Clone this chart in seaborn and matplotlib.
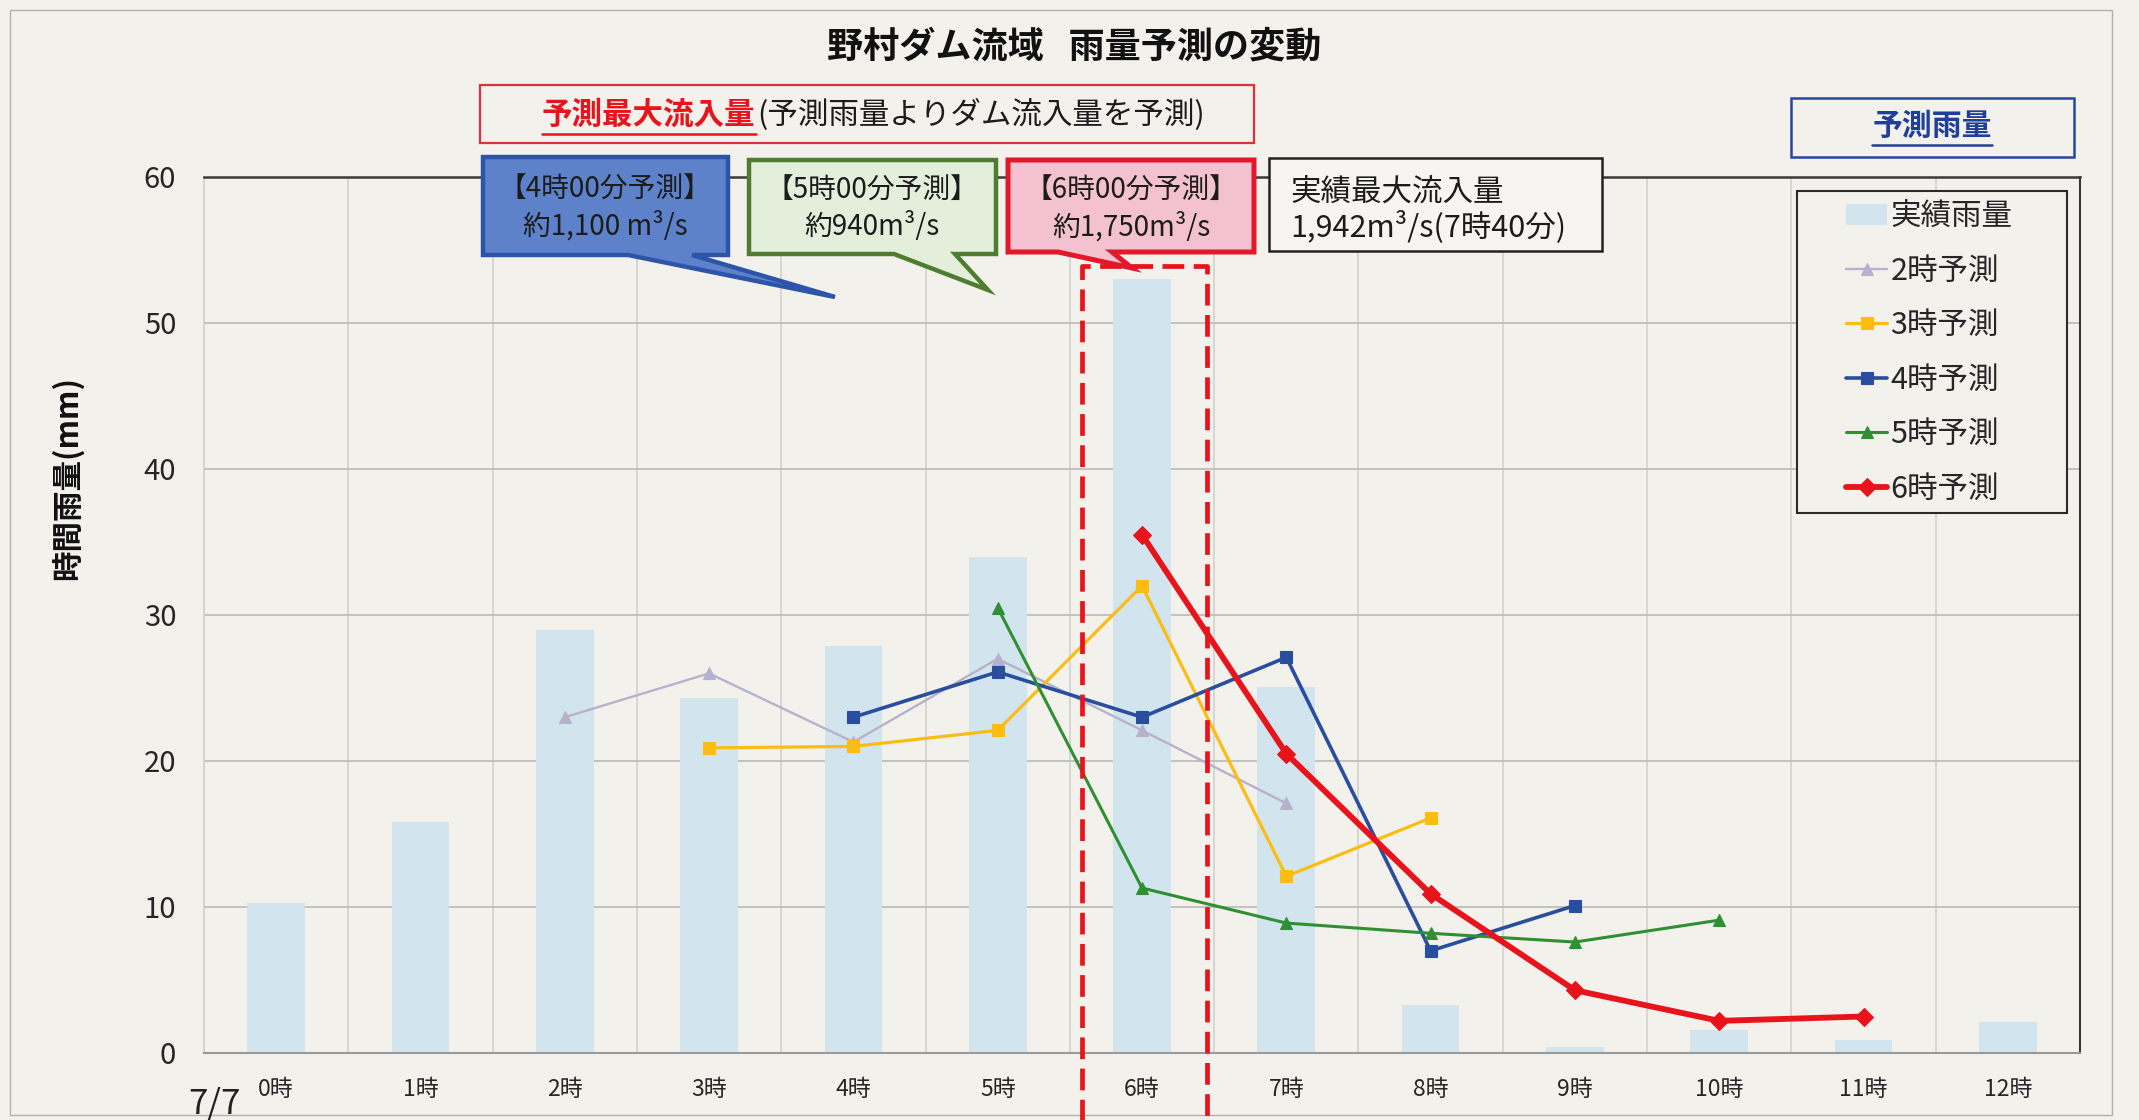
import numpy as np
import pandas as pd
import matplotlib
matplotlib.use('Agg')
import matplotlib.pyplot as plt
import seaborn as sns
from matplotlib.patches import Polygon, Rectangle
from matplotlib.lines import Line2D

# ---------------- data ----------------
hours = ['0時', '1時', '2時', '3時', '4時', '5時', '6時', '7時', '8時', '9時', '10時', '11時', '12時']
actual_rain = [10.3, 15.8, 29.0, 24.3, 27.9, 34.0, 53.0, 25.1, 3.3, 0.4, 1.6, 0.9, 2.1]

f2_pos = [2, 3, 4, 5, 6, 7]
f2_vals = [23.0, 26.0, 21.3, 27.0, 22.1, 17.1]
f3_pos = [3, 4, 5, 6, 7, 8]
f3_vals = [20.9, 21.0, 22.1, 32.0, 12.1, 16.1]
f4_pos = [4, 5, 6, 7, 8, 9]
f4_vals = [23.0, 26.1, 23.0, 27.1, 7.0, 10.1]
f5_pos = [5, 6, 7, 8, 9, 10]
f5_vals = [30.5, 11.3, 8.9, 8.2, 7.6, 9.1]
f6_pos = [6, 7, 8, 9, 10, 11]
f6_vals = [35.5, 20.5, 10.9, 4.3, 2.2, 2.5]

series_names = ['2時予測', '3時予測', '4時予測', '5時予測', '6時予測']
series_pos = [f2_pos, f3_pos, f4_pos, f5_pos, f6_pos]
series_vals = [f2_vals, f3_vals, f4_vals, f5_vals, f6_vals]

# ---------------- style ----------------
BG = '#f2f1ec'
BAR = '#d2e5ef'
styles = {
    '2時予測': dict(color='#b7b2cb', marker='^', lw=1.7, ms=8),
    '3時予測': dict(color='#fbbd12', marker='s', lw=2.3, ms=8.5),
    '4時予測': dict(color='#2a4e9f', marker='s', lw=2.6, ms=8.5),
    '5時予測': dict(color='#2f8f32', marker='^', lw=2.2, ms=9),
    '6時予測': dict(color='#e8141c', marker='D', lw=4.2, ms=9.5),
}

sns.set_style('white')
plt.rcParams['font.family'] = ['Noto Sans CJK JP', 'DejaVu Sans']

W, H = 2139, 1120
fig = plt.figure(figsize=(W / 100, H / 100), dpi=100, facecolor=BG)


def fx(px):
    return px / W


def fy(py):
    return 1 - py / H


ax = fig.add_axes([fx(204), fy(1053), fx(2080) - fx(204), fy(177) - fy(1053)])
ax.set_facecolor(BG)

sns.barplot(x=hours, y=actual_rain, order=hours, color=BAR, saturation=1, width=0.40,
            errorbar=None, label='実績雨量', linewidth=0, ax=ax, zorder=2)

for name, xs, ys in zip(series_names, series_pos, series_vals):
    st = styles[name]
    sns.lineplot(x=xs, y=ys, color=st['color'], marker=st['marker'], linewidth=st['lw'],
                 markersize=st['ms'], markeredgecolor=st['color'], markeredgewidth=0.8,
                 label=name, ax=ax, zorder=3)

ax.set_xlim(-0.5, 12.5)
ax.set_ylim(0, 60)
ax.set_yticks(range(0, 61, 10))
ax.set_xticks(range(len(hours)))
ax.set_xticklabels(hours)
ax.set_xticks(np.arange(-0.5, len(hours), 1), minor=True)
ax.set_xlabel('')
ax.set_ylabel('')
ax.grid(False)
ax.yaxis.grid(True, color='#bdbdbd', lw=1.3)
ax.xaxis.grid(True, which='minor', color='#cfcfcf', lw=1.1)
ax.set_axisbelow(True)
ax.tick_params(axis='x', which='major', length=0, pad=18, labelsize=16.5)
ax.tick_params(axis='x', which='minor', length=7, color='#bdbdbd', width=1)
ax.tick_params(axis='y', length=0, pad=20, labelsize=21)
ax.spines['top'].set_color('#3a3a3a'); ax.spines['top'].set_linewidth(1.8)
ax.spines['right'].set_color('#3a3a3a'); ax.spines['right'].set_linewidth(1.5)
ax.spines['bottom'].set_color('#9a9a9a'); ax.spines['bottom'].set_linewidth(1.5)
ax.spines['left'].set_color('#cfcfcf'); ax.spines['left'].set_linewidth(1.1)

# legend with opaque frame
handles, labels = ax.get_legend_handles_labels()
hmap = dict(zip(labels, handles))
order = ['実績雨量'] + series_names
ax.add_patch(Rectangle((fx(1797), fy(513)), fx(2067) - fx(1797), fy(191) - fy(513),
                       transform=fig.transFigure, clip_on=False, fc=BG, ec='#2a2a2a',
                       lw=1.5, zorder=4))
leg = ax.legend([hmap[k] for k in order], order, loc='upper left',
                bbox_to_anchor=(fx(1846), fy(201)), bbox_transform=fig.transFigure,
                frameon=False, fontsize=22, handlelength=1.35, handletextpad=0.1,
                labelspacing=0.77, borderpad=0, borderaxespad=0)
leg.set_zorder(6)

# dashed red rectangle around 6時
dash = Line2D([fx(1082), fx(1082), fx(1207), fx(1207)], [fy(1125), fy(266), fy(266), fy(1125)],
              transform=fig.transFigure, color='#e8141c', lw=3.4, zorder=4)
dash.set_dashes([4.6, 2.0])
fig.add_artist(dash)

# outer frame of the sheet
fig.add_artist(Rectangle((fx(10), fy(1115)), fx(2112) - fx(10), fy(10) - fy(1115),
                         transform=fig.transFigure, fill=False, ec='#b0b0b0', lw=1.0))


def bubble(x0, y0, x1, y1, tb0, tb1, tip, fc, ec, lw):
    pts = [(x0, y0), (x1, y0), (x1, y1), (tb1, y1), tip, (tb0, y1), (x0, y1)]
    poly = Polygon([(fx(a), fy(b)) for a, b in pts], closed=True, transform=fig.transFigure,
                   fc=fc, ec=ec, lw=lw, joinstyle='miter', zorder=5)
    fig.add_artist(poly)


def box(x0, y0, x1, y1, fc, ec, lw):
    fig.add_artist(Rectangle((fx(x0), fy(y1)), fx(x1) - fx(x0), fy(y0) - fy(y1),
                             transform=fig.transFigure, fc=fc, ec=ec, lw=lw, zorder=5))


# callouts
bubble(483, 157, 728, 255, 628, 692, (835, 297), '#5d82c9', '#2c55aa', 3.2)
bubble(749, 160, 996, 254, 894, 955, (988, 290), '#e3eedb', '#4f7d2f', 3.2)
bubble(1008, 160, 1254, 252, 1058, 1112, (1132, 268), '#f3c1d0', '#e2192a', 3.6)
box(1269, 158, 1602, 251, '#f6f5f1', '#222222', 1.8)
box(480, 85, 1254, 143, BG, '#e0303a', 1.6)
box(1791, 98, 2074, 157, BG, '#2846a0', 1.8)

tk = dict(fontsize=20, ha='center', va='center', color='#1c1c1c', zorder=6)
fig.text(fx(605), fy(190), '【4時00分予測】', **tk)
fig.text(fx(605), fy(226), '約1,100 m³/s', **tk)
fig.text(fx(872), fy(191), '【5時00分予測】', **tk)
fig.text(fx(872), fy(227), '約940m³/s', **tk)
fig.text(fx(1131), fy(191), '【6時00分予測】', **tk)
fig.text(fx(1131), fy(227), '約1,750m³/s', **tk)
fig.text(fx(1290), fy(192), '実績最大流入量', fontsize=22, ha='left', va='center', color='#1c1c1c', zorder=6)
fig.text(fx(1290), fy(227), '1,942m³/s(7時40分)', fontsize=22, ha='left', va='center', color='#1c1c1c', zorder=6)

# header text: red bold underlined + black
t_red = fig.text(fx(542), fy(115), '予測最大流入量', fontsize=22, fontweight='bold', color='#e8141c',
                 ha='left', va='center', zorder=6)
fig.canvas.draw()
bb = t_red.get_window_extent()
fig.text(bb.x1 / W + 0.001, fy(115), '(予測雨量よりダム流入量を予測)', fontsize=22, color='#1c1c1c',
         ha='left', va='center', zorder=6)
fig.add_artist(Line2D([bb.x0 / W, bb.x1 / W], [fy(134), fy(134)], transform=fig.transFigure,
                      color='#e8141c', lw=1.8, zorder=6))

t_blue = fig.text(fx(1932), fy(126), '予測雨量', fontsize=21.5, fontweight='bold', color='#1f3f9a',
                  ha='center', va='center', zorder=6)
fig.canvas.draw()
bb2 = t_blue.get_window_extent()
fig.add_artist(Line2D([bb2.x0 / W, bb2.x1 / W], [fy(145), fy(145)], transform=fig.transFigure,
                      color='#1f3f9a', lw=1.8, zorder=6))

# title, axis label, date
fig.text(fx(1074), fy(47), '野村ダム流域   雨量予測の変動', fontsize=26, fontweight='bold',
         ha='center', va='center', color='#111111')
fig.text(fx(68), fy(478), '時間雨量(mm)', rotation=90, fontsize=22, fontweight='bold',
         ha='center', va='center', color='#111111')
fig.text(fx(214), fy(1104), '7/7', fontsize=25, ha='center', va='center', color='#222222')

fig.savefig('out.png', dpi=100, facecolor=BG)
